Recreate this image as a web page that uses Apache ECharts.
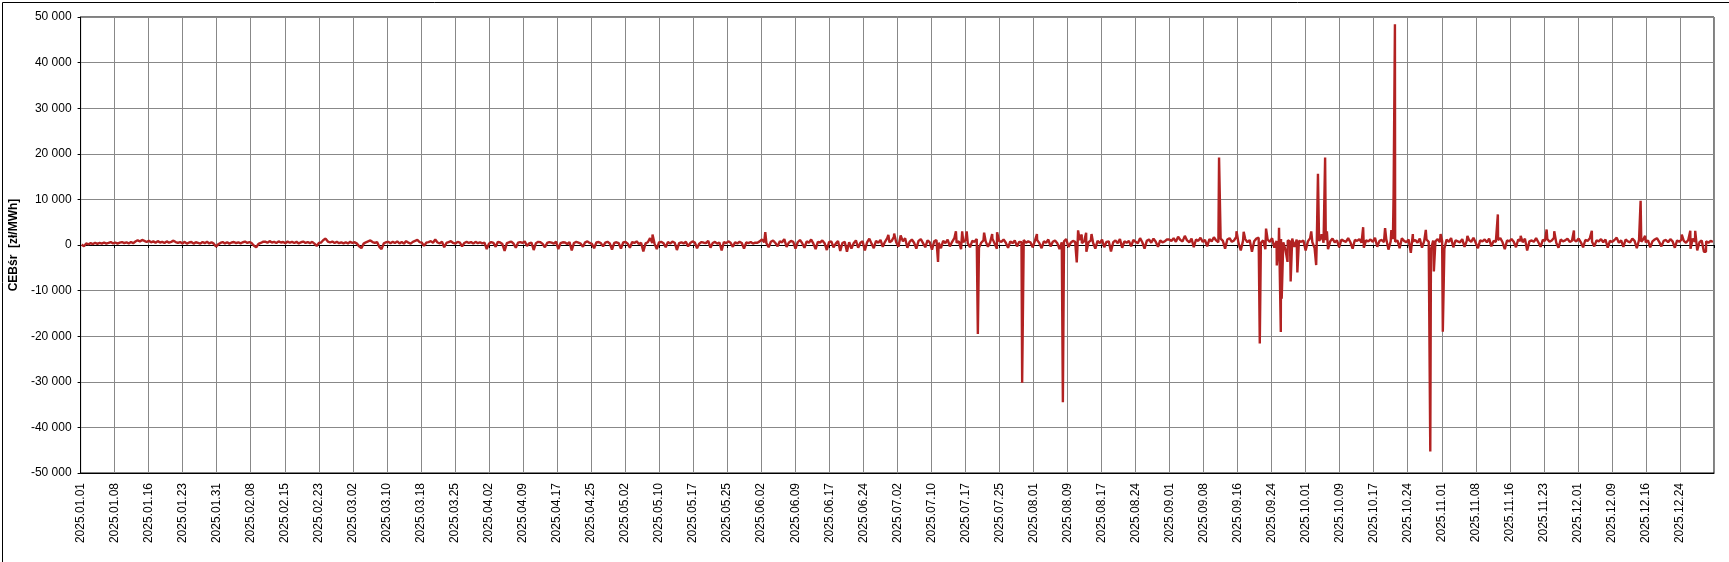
<!DOCTYPE html>
<html>
<head>
<meta charset="utf-8">
<script src="https://cdn.jsdelivr.net/npm/echarts@6/dist/echarts.min.js"></script>
<style>
html,body{margin:0;padding:0;background:#fff;}
#chart{width:1729px;height:562px;}
</style>
</head>
<body>
<div id="chart"></div>
<script>
// CEBśr [zł/MWh], 2025 — base values, 2 readings per day per month
const jan = [100,-300,350,150,400,200,500,250,450,300,550,300,450,650,350,550,300,500,650,400,600,350,650,400,750,1050,750,1100,900,650,950,600,800,500,850,550,700,450,800,500,700,950,650,450,650,350,700,300,550,650,300,600,450,300,650,400,700,350,600,300,-350,150];
const feb = [450,650,350,600,300,550,650,400,600,350,600,750,450,650,400,-150,-500,250,450,700,750,500,850,550,700,450,800,550,650,400,750,500,700,450,700,350,600,750,450,650,400,700,300,-200,450,550,1100,1400,750,550,750,450,700,400,600,350];
const mar = [600,350,700,450,600,300,-300,-700,300,600,800,1000,650,450,650,-400,-900,350,600,700,400,700,450,800,350,650,300,850,500,300,700,900,1100,650,500,-200,500,650,850,500,1200,550,350,750,-500,450,650,850,450,300,700,500,-300,450,700,450,650,300,700,400,600,350];
const apr = [500,-900,300,650,450,-400,700,550,200,-1300,400,600,750,300,-600,500,650,450,800,-200,350,550,-1100,400,700,600,250,-500,450,650,500,300,750,-900,400,600,550,200,650,-1200,450,700,500,300,-400,600,800,450,250,-700,550,650,400,-300,500,700,350,-1000,450,600];
const may = [400,-800,550,700,300,-600,650,450,800,200,500,-1400,350,600,1500,450,300,-900,550,700,400,-500,650,300,750,500,-1100,400,600,350,700,-300,450,800,550,-700,300,650,500,400,900,-600,450,700,300,550,-1200,650,400,800,500,-400,600,350,700,450,-800,550,400,650,300,500];
const jun = [500,800,1200,600,400,-500,700,1000,450,-300,800,600,1300,-400,500,900,700,-800,600,1100,400,-600,800,500,1200,300,-900,700,550,1000,400,-1100,650,800,-500,300,900,-1300,450,700,-1500,600,-800,400,1000,-600,500,800,-1200,600,1400,300,-700,900,500,1100,-400,700,1500,600];
const jul = [900,1800,600,-400,2100,800,1500,-600,700,1200,500,-800,900,1300,400,-500,1000,600,-1000,800,1100,500,-700,900,400,1200,-300,700,1500,500,800,-900,600,1100,400,-500,900,700,1300,-600,500,1000,800,-400,600,1400,300,-800,900,700,1200,500,-600,800,400,1000,-300,700,600,1100,500,800];
const aug = [600,-500,900,1100,400,-700,800,500,1200,-300,700,1000,400,-900,600,800,1300,-400,500,900,700,-600,1100,400,800,-1500,600,1000,500,-800,900,400,1200,-500,700,800,-1400,600,1000,400,1300,-600,800,500,900,-300,1100,700,400,1500,600,-800,900,1200,500,1400,700,-400,1000,600,800,1200];
const sep = [1200,900,1500,700,1800,1100,800,2000,1000,600,1400,-500,1200,900,1600,700,1100,-300,1300,800,1700,1000,600,1400,900,-800,1200,1500,700,1000,1800,400,-1200,900,1300,600,1100,-1500,800,1400,1600,500,1000,-900,1200,700,1500,-600,900,1100,1300,600,-1100,1000,800,1400,-400,1200,900,700];
const oct = [1000,-1200,800,1500,600,-700,1200,900,1700,500,1100,-900,800,1400,600,1000,-500,1200,900,700,1500,600,-800,1100,900,1300,500,-600,1000,800,1200,700,1600,-400,900,1100,600,1400,-1000,800,1300,700,1000,-700,1500,900,600,1200,-1700,800,1100,500,1400,-600,900,1200,700,-900,1000,800,1300,600];
const nov = [900,-800,1200,700,1500,-500,1000,800,600,1300,-400,900,1100,700,1600,500,-700,1000,800,1200,600,1400,-300,900,700,1100,1500,600,-900,1000,800,1300,700,-500,1200,900,600,1400,-1200,800,1000,700,1500,600,-400,1100,900,1300,700,1000,1600,500,-600,1200,800,1000,1400,700,900,1100];
const dec = [800,1400,600,-500,1100,900,1500,700,-300,1000,800,1300,600,1200,-600,900,700,1100,1600,500,1000,-400,1200,800,600,1400,900,-700,1100,700,1300,600,1000,-500,800,1200,1500,700,-300,900,1100,600,1300,800,-600,1000,700,1200,900,500,1100,-800,1400,700,-1200,600,1000,-1500,800,500,900,700];
const monthDays = [31,28,31,30,31,30,31,31,30,31,30,31];

// Spikes: day of year (from 2025-01-01 00:00) and value
const spikeDays   = [127.8,153.0,180.5,181.8,191.6,195.6,197.0,198.0,200.5,201.9,203.7,204.8,210.4,213.7,219.5,222.6,222.9,223.7,224.7,225.9,254.4,258.3,259.9,263.5,264.9,267.3,267.8,268.2,268.4,269.7,270.4,271.9,275.0,276.1,276.5,277.3,278.1,278.5,286.6,291.5,292.9,293.4,293.7,297.7,300.6,301.6,302.4,303.9,304.4,309.9,316.7,321.8,327.6,329.3,333.7,337.7,348.6,349.6,357.8,359.7,360.8,363.2];
const spikeValues = [2300,2800,2200,2500,-3700,3000,3000,3000,-19500,2700,2400,2800,-30200,2400,-34500,-3800,3200,2300,2700,2400,19200,3000,2900,-21600,3600,-4500,3800,-19100,-11800,-3700,-8000,-6000,3000,-4400,15600,2400,19200,3000,3900,3700,3300,11000,48400,2400,3300,-45300,-5800,2400,-19000,2000,6700,2000,3400,3000,3200,3100,9700,2000,2300,3100,3100,-1500];

const yTicks = [-50000,-40000,-30000,-20000,-10000,0,10000,20000,30000,40000,50000];

const months = [jan,feb,mar,apr,may,jun,jul,aug,sep,oct,nov,dec];
let pts = [];
let start = 0;
months.forEach((arr, m) => {
  const step = monthDays[m] / arr.length;
  arr.forEach((v, i) => pts.push([start + (i + 0.5) * step, v]));
  start += monthDays[m];
});
spikeDays.forEach((d, i) => pts.push([d, spikeValues[i]]));
pts.sort((a, b) => a[0] - b[0]);

const FONT = '"Liberation Sans", Arial, sans-serif';
function fmtNum(v) {
  const s = String(Math.abs(v)).replace(/\B(?=(\d{3})+(?!\d))/g, ' ');
  return (v < 0 ? '-' : '') + s;
}
// tick labels: quarter-hour index based, shifted by 1 h during summer time
function fmtDay(v) {
  if (v > 364.5) return '';
  let t = v;
  if (v > 88.2 && v < 298) t = v + 4 / 96;
  const d = new Date(Date.UTC(2025, 0, 1) + Math.floor(t + 1e-6) * 86400000);
  const mm = String(d.getUTCMonth() + 1).padStart(2, '0');
  const dd = String(d.getUTCDate()).padStart(2, '0');
  return d.getUTCFullYear() + '.' + mm + '.' + dd;
}

const chart = echarts.init(document.getElementById('chart'), null, {renderer: 'canvas'});
chart.setOption({
  animation: false,
  backgroundColor: '#fff',
  textStyle: {fontFamily: FONT},
  graphic: [{
    type: 'rect', left: 0, top: 0, z: -10,
    shape: {x: 0.5, y: 0.5, width: 1727, height: 560},
    style: {fill: 'none', stroke: '#000', lineWidth: 1}
  }],
  grid: {left: 80, right: 15, top: 17, bottom: 89, show: true, borderColor: '#000', borderWidth: 1, backgroundColor: 'transparent'},
  xAxis: [{
    type: 'value', min: 0, max: 365, interval: 365 / 48, position: 'bottom',
    axisLine: {show: true, onZero: false, lineStyle: {color: '#000', width: 1}},
    axisTick: {show: false},
    splitLine: {show: true, lineStyle: {color: '#888', width: 1}},
    axisLabel: {rotate: 90, margin: 10, fontSize: 12, color: '#000', fontFamily: FONT, formatter: fmtDay, showMaxLabel: false}
  }, {
    type: 'value', min: 0, max: 365, interval: 365 / 48, position: 'bottom',
    axisLine: {show: true, onZero: true, lineStyle: {color: '#000', width: 1}},
    axisTick: {show: true, length: 3, lineStyle: {color: '#000'}},
    splitLine: {show: false},
    axisLabel: {show: false}
  }],
  yAxis: {
    type: 'value', min: yTicks[0], max: yTicks[yTicks.length - 1], interval: 10000,
    name: 'CEBśr  [zł/MWh]', nameLocation: 'middle', nameGap: 52,
    nameTextStyle: {fontSize: 12, fontWeight: 'bold', color: '#000', fontFamily: FONT},
    axisLine: {show: true, lineStyle: {color: '#000'}},
    axisTick: {show: true, length: 3, lineStyle: {color: '#000'}},
    splitLine: {show: true, lineStyle: {color: '#888', width: 1}},
    axisLabel: {fontSize: 12, color: '#000', margin: 9, fontFamily: FONT, formatter: fmtNum}
  },
  series: [{
    type: 'line', xAxisIndex: 0, data: pts, showSymbol: false, symbol: 'none',
    sampling: 'none', lineStyle: {color: '#b22222', width: 2.4, join: 'bevel'}, itemStyle: {color: '#b22222'}, z: 5
  }]
});
</script>
</body>
</html>
